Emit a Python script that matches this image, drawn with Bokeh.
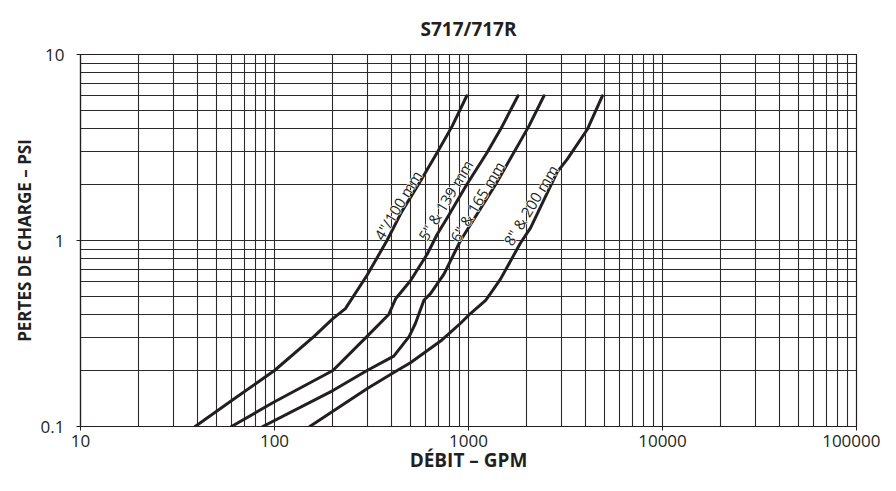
from bokeh.plotting import figure
from bokeh.models import FixedTicker, NumeralTickFormatter, ColumnDataSource
from bokeh.core.properties import value
from bokeh.embed import file_html
from bokeh.resources import INLINE

# ---- data (GPM, PSI) ----
flow_4in = [39, 62, 100, 160, 200, 232, 300, 380, 453, 552, 690, 824, 980]
loss_4in = [0.1, 0.141, 0.2, 0.305, 0.38, 0.43, 0.65, 1.0, 1.43, 2.0, 2.97, 4.12, 6.0]

flow_5in = [60, 99, 200, 300, 388, 421, 502, 612, 690, 776, 980, 1247, 1493, 1800]
loss_5in = [0.1, 0.135, 0.2, 0.305, 0.4, 0.486, 0.608, 0.843, 1.08, 1.32, 2.0, 2.97, 4.12, 6.0]

flow_6in = [87, 200, 300, 412, 495, 533, 589, 637, 747, 910, 1380, 2048, 2450]
loss_6in = [0.1, 0.156, 0.2, 0.239, 0.305, 0.359, 0.477, 0.518, 0.66, 1.0, 2.0, 4.12, 6.0]

flow_8in = [152, 301, 412, 502, 730, 910, 1023, 1225, 1297, 1462, 1853, 2089, 2864, 3231, 4093, 4900]
loss_8in = [0.1, 0.16, 0.195, 0.22, 0.292, 0.359, 0.405, 0.477, 0.518, 0.62, 0.97, 1.17, 2.33, 2.74, 3.95, 6.0]

curve_labels = ['4"/100 mm', '5" & 139 mm', '6" & 165 mm', '8" & 200 mm']
label_flow = [432, 761, 1109, 2090]
label_loss = [1.55, 1.65, 1.62, 1.55]

title_text = "S717/717R"
x_title = "DÉBIT – GPM"
y_title = "PERTES DE CHARGE – PSI"

x_major = [10, 100, 1000, 10000, 100000]
y_major = [0.1, 1, 10]
x_grid = [m * 10 ** k for k in range(1, 5) for m in range(1, 10)] + [100000]
y_grid = [m * 10.0 ** k for k in range(-1, 1) for m in range(1, 10)] + [10]

FONT = "Open Sans"
INK = "#231f20"

p = figure(width=880, height=475, x_axis_type="log", y_axis_type="log",
           x_range=(10, 100000), y_range=(0.1, 10),
           output_backend="svg", toolbar_location=None,
           min_border_left=80, min_border_right=24,
           min_border_top=54, min_border_bottom=48,
           title=title_text)

p.title.align = "center"
p.title.text_font = FONT
p.title.text_font_size = "19px"
p.title.text_font_style = "bold"
p.title.text_color = INK
p.title.standoff = 25

p.outline_line_color = INK
p.outline_line_width = 1.2

# grids
p.xgrid.ticker = FixedTicker(ticks=x_grid)
p.ygrid.ticker = FixedTicker(ticks=y_grid)
for g in (p.xgrid, p.ygrid):
    g.grid_line_color = "#2a2a2a"
    g.grid_line_width = 1.1
    g.grid_line_alpha = 1.0

# axes
p.xaxis.ticker = FixedTicker(ticks=x_major)
p.yaxis.ticker = FixedTicker(ticks=y_major)
p.xaxis.formatter = NumeralTickFormatter(format="0")
p.yaxis.formatter = NumeralTickFormatter(format="0.[0]")
for ax in (p.xaxis, p.yaxis):
    ax.axis_line_color = INK
    ax.axis_line_width = 1.2
    ax.major_tick_line_color = INK
    ax.major_tick_out = 4
    ax.major_tick_in = 0
    ax.minor_tick_line_color = None
    ax.major_label_text_font = FONT
    ax.major_label_text_font_size = "17px"
    ax.major_label_text_color = INK
    ax.axis_label_text_font = FONT
    ax.axis_label_text_font_style = "bold"
    ax.axis_label_text_color = INK
p.xaxis.axis_label = x_title
p.yaxis.axis_label = y_title
p.xaxis.axis_label_text_font_size = "19px"
p.yaxis.axis_label_text_font_size = "17px"
p.xaxis.major_label_standoff = 4
p.xaxis.axis_label_standoff = -3
p.yaxis.major_label_standoff = 12
p.yaxis.axis_label_standoff = 2

# curves
for xs, ys in ((flow_4in, loss_4in), (flow_5in, loss_5in),
               (flow_6in, loss_6in), (flow_8in, loss_8in)):
    p.line(xs, ys, line_color=INK, line_width=3, line_join="round", line_cap="round")

# curve labels: white halo pass, then ink pass
src = ColumnDataSource(dict(x=label_flow, y=label_loss, t=curve_labels))
p.text(x="x", y="y", text="t", source=src, angle=1.03,
       text_align="center", text_baseline="middle",
       text_font=value(FONT), text_font_size="15px", text_color="white",
       text_outline_color="white")
p.text(x="x", y="y", text="t", source=src, angle=1.03,
       text_align="center", text_baseline="middle",
       text_font=value(FONT), text_font_size="15px", text_color=INK)

open("out.html", "w").write(file_html(p, INLINE))
